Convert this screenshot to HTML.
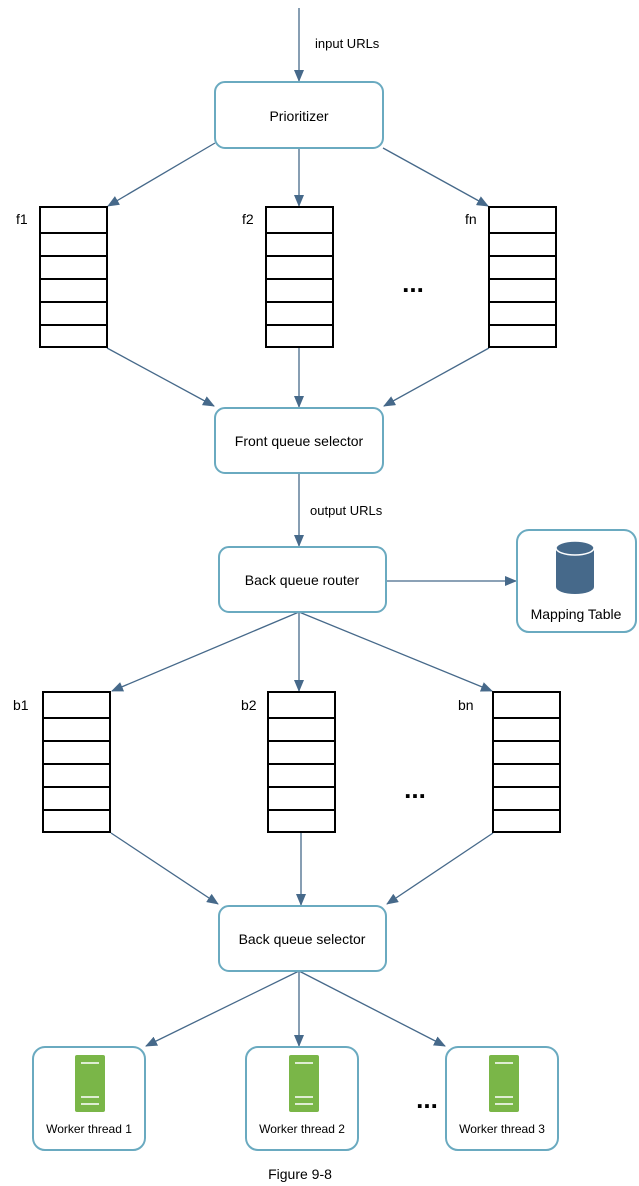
<!DOCTYPE html>
<html><head><style>
body{margin:0;background:#fff}
svg{display:block;font-family:"Liberation Sans",Arial,sans-serif}
</style></head><body>
<svg width="639" height="1186" viewBox="0 0 639 1186">
<defs>
<marker id="a" markerWidth="12" markerHeight="10" refX="11" refY="5" orient="auto" markerUnits="userSpaceOnUse">
<path d="M0,0 L12,5 L0,10 z" fill="#46698a"/></marker>
<g id="q">
<rect x="0" y="0" width="67" height="140" fill="#fff" stroke="#000" stroke-width="2"/>
<path d="M0,26H67M0,49H67M0,72H67M0,95H67M0,118H67" stroke="#000" stroke-width="2"/>
</g>
<g id="srv">
<rect x="-12" y="0" width="30" height="57" rx="2" fill="#7ab648"/>
<path d="M-6,8H12M-6,42H12M-6,49H12" stroke="#fff" stroke-width="1.5"/>
</g>
</defs>
<g stroke="#46698a" stroke-width="1.3" fill="none" marker-end="url(#a)">
<line x1="299" y1="8" x2="299" y2="81"/>
<line x1="215" y1="143" x2="108" y2="206"/>
<line x1="299" y1="148" x2="299" y2="206"/>
<line x1="383" y1="148" x2="488" y2="206"/>
<line x1="107" y1="348" x2="214" y2="406"/>
<line x1="299" y1="348" x2="299" y2="407"/>
<line x1="489" y1="348" x2="384" y2="406"/>
<line x1="299" y1="473" x2="299" y2="546"/>
<line x1="386" y1="581" x2="516" y2="581"/>
<line x1="299" y1="612" x2="112" y2="691"/>
<line x1="299" y1="612" x2="299" y2="691"/>
<line x1="299" y1="612" x2="492" y2="691"/>
<line x1="111" y1="833" x2="218" y2="904"/>
<line x1="301" y1="833" x2="301" y2="905"/>
<line x1="493" y1="833" x2="387" y2="904"/>
<line x1="299" y1="971" x2="146" y2="1046"/>
<line x1="299" y1="971" x2="299" y2="1046"/>
<line x1="299" y1="971" x2="445" y2="1046"/>
</g>
<g fill="#fff" stroke="#6aaac0" stroke-width="2">
<rect x="215" y="82" width="168" height="66" rx="10"/>
<rect x="215" y="408" width="168" height="65" rx="10"/>
<rect x="219" y="547" width="167" height="65" rx="10"/>
<rect x="517" y="530" width="119" height="102" rx="12"/>
<rect x="219" y="906" width="167" height="65" rx="10"/>
<rect x="33" y="1047" width="112" height="103" rx="12"/>
<rect x="246" y="1047" width="112" height="103" rx="12"/>
<rect x="446" y="1047" width="112" height="103" rx="12"/>
</g>
<use href="#q" x="40" y="207"/><use href="#q" x="266" y="207"/><use href="#q" x="489" y="207"/>
<use href="#q" x="43" y="692"/><use href="#q" x="268" y="692"/><use href="#q" x="493" y="692"/>
<path d="M556,548 v39 a19,7 0 0 0 38,0 v-39 z" fill="#46698a"/>
<ellipse cx="575" cy="548" rx="19" ry="7" fill="#46698a" stroke="#fff" stroke-width="1.5"/>
<use href="#srv" x="87" y="1055"/><use href="#srv" x="301" y="1055"/><use href="#srv" x="501" y="1055"/>
<g font-size="13" fill="#000">
<text x="315" y="48">input URLs</text>
<text x="299" y="121" text-anchor="middle" font-size="14">Prioritizer</text>
<text x="16" y="224" font-size="14">f1</text>
<text x="242" y="224" font-size="14">f2</text>
<text x="465" y="224" font-size="14">fn</text>
<text x="299" y="446" text-anchor="middle" font-size="14">Front queue selector</text>
<text x="310" y="515">output URLs</text>
<text x="302" y="585" text-anchor="middle" font-size="14">Back queue router</text>
<text x="576" y="619" text-anchor="middle" font-size="14">Mapping Table</text>
<text x="13" y="710" font-size="14">b1</text>
<text x="241" y="710" font-size="14">b2</text>
<text x="458" y="710" font-size="14">bn</text>
<text x="302" y="944" text-anchor="middle" font-size="14">Back queue selector</text>
<text x="89" y="1133" text-anchor="middle" font-size="12">Worker thread 1</text>
<text x="302" y="1133" text-anchor="middle" font-size="12">Worker thread 2</text>
<text x="502" y="1133" text-anchor="middle" font-size="12">Worker thread 3</text>
<text x="300" y="1179" text-anchor="middle" font-size="14">Figure 9-8</text>
<text x="413" y="292" text-anchor="middle" font-size="26" font-weight="bold">...</text>
<text x="415" y="798" text-anchor="middle" font-size="26" font-weight="bold">...</text>
<text x="427" y="1108" text-anchor="middle" font-size="26" font-weight="bold">...</text>
</g>
</svg>
</body></html>
